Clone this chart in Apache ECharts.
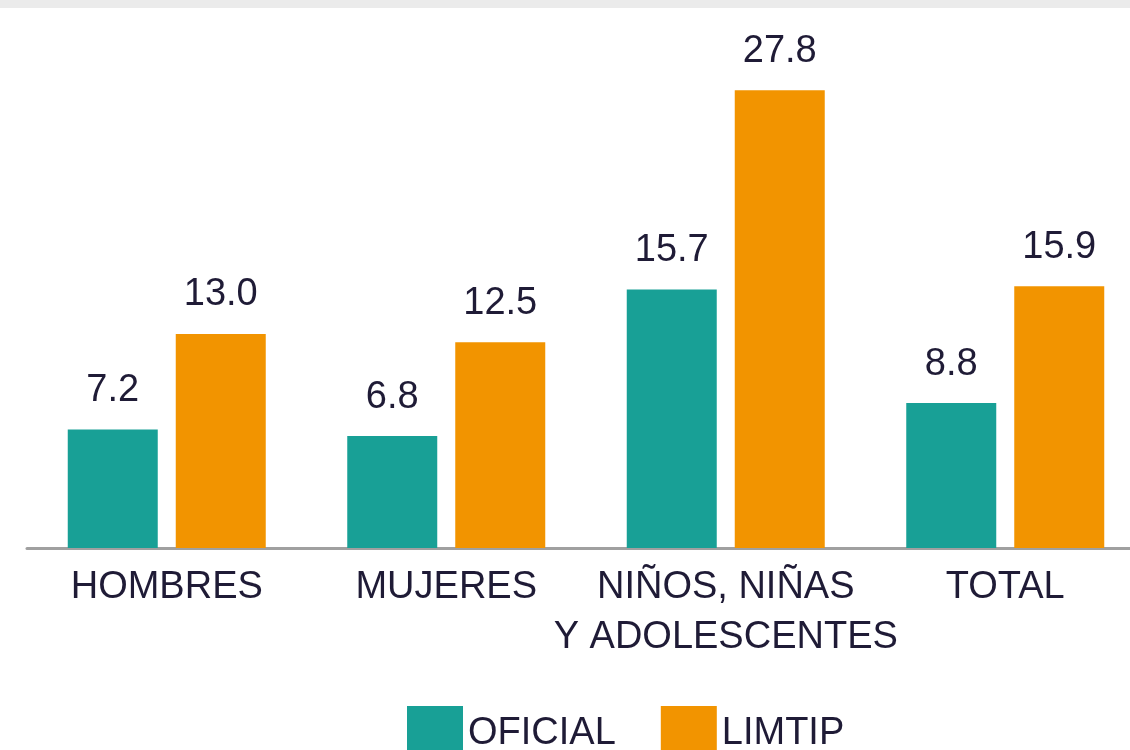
<!DOCTYPE html>
<html>
<head>
<meta charset="utf-8">
<script src="https://cdn.jsdelivr.net/npm/echarts@6/dist/echarts.min.js"></script>
<style>
html,body{margin:0;padding:0;background:#ffffff;}
#chart{width:1130px;height:750px;}
</style>
</head>
<body>
<div id="chart"></div>
<script>
const categories = ['HOMBRES', 'MUJERES', 'NIÑOS, NIÑAS\nY ADOLESCENTES', 'TOTAL'];
const oficial = [7.2, 6.8, 15.7, 8.8];
const limtip = [13.0, 12.5, 27.8, 15.9];
const seriesNames = ['OFICIAL', 'LIMTIP'];

const FONT = '"Liberation Sans", Arial, sans-serif';
const TEXT = '#1f1b36';

const chart = echarts.init(document.getElementById('chart'));
const labelCfg = {
  show: true,
  position: 'top',
  distance: 20,
  fontFamily: FONT,
  fontSize: 38,
  color: TEXT,
  formatter: p => p.value.toFixed(1)
};
chart.setOption({
  backgroundColor: '#ffffff',
  animation: false,
  graphic: [{
    type: 'rect',
    shape: {x: 0, y: 0, width: 1130, height: 8},
    style: {fill: '#ebebeb'},
    silent: true
  }],
  legend: {
    data: seriesNames,
    left: 407,
    top: 706,
    padding: 0,
    itemWidth: 56,
    itemHeight: 56,
    itemGap: 45,
    icon: 'rect',
    textStyle: {fontFamily: FONT, fontSize: 38, color: TEXT}
  },
  grid: {left: 27, width: 1118, top: 54, bottom: 202, containLabel: false, outerBoundsMode: 'none'},
  xAxis: {
    type: 'category',
    data: categories,
    axisLine: {show: true, lineStyle: {color: '#a0a0a0', width: 3}},
    axisTick: {show: false},
    axisLabel: {
      fontFamily: FONT,
      fontSize: 38,
      lineHeight: 50,
      color: TEXT,
      margin: 15,
      interval: 0
    }
  },
  yAxis: {
    type: 'value',
    min: 0,
    max: 30,
    show: false,
    splitLine: {show: false}
  },
  series: [
    {
      name: seriesNames[0],
      type: 'bar',
      data: oficial,
      barWidth: 90,
      barGap: '20%',
      itemStyle: {color: '#18a096'},
      label: labelCfg
    },
    {
      name: seriesNames[1],
      type: 'bar',
      data: limtip,
      barWidth: 90,
      barGap: '20%',
      itemStyle: {color: '#f29400'},
      label: labelCfg
    }
  ]
});
</script>
</body>
</html>
